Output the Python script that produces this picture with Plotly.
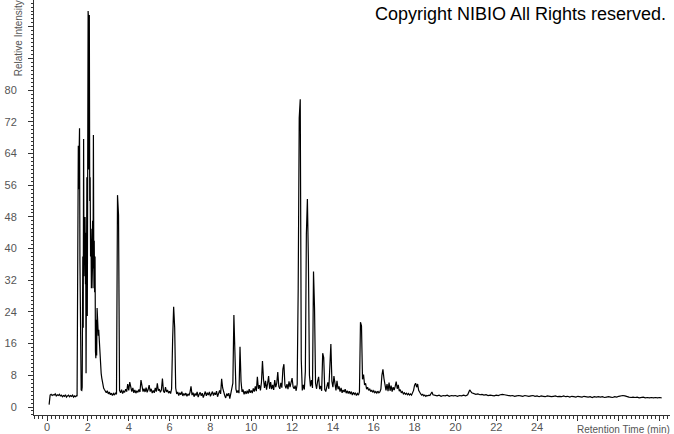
import plotly.graph_objects as go

# ---- data ----
# segment A: start of run (explicit times) + baseline sampled every 0.05 min
start_times = [0.10, 0.12]
start_values = [0.6, 2.9]
base_a_t0, base_a_dt = 0.15, 0.05
base_a_values = [3.0, 3.2, 2.9, 3.1, 3.0, 3.3, 2.8, 3.1, 2.9, 3.2, 2.8, 3.0, 2.6, 2.9,
                 2.7, 3.1, 2.5, 2.8, 3.0, 2.6, 2.9, 2.7, 3.0, 2.5, 2.8, 2.6, 2.9]

# segment B: early co-eluting cluster (explicit times)
cluster_times = [1.47, 1.49, 1.51, 1.52, 1.53, 1.54, 1.56, 1.57, 1.59, 1.61,
                 1.63, 1.65, 1.67, 1.70, 1.72, 1.75, 1.77, 1.79, 1.81, 1.83,
                 1.85, 1.86, 1.88, 1.89, 1.91, 1.93, 1.95, 1.97, 1.99, 2.01,
                 2.03, 2.05, 2.07, 2.09, 2.11, 2.13, 2.15, 2.17, 2.19, 2.21,
                 2.23, 2.25, 2.27, 2.29, 2.31, 2.33, 2.35, 2.37, 2.39, 2.41,
                 2.43, 2.45, 2.47, 2.49, 2.51, 2.53, 2.56, 2.59, 2.62, 2.65,
                 2.68, 2.71, 2.74, 2.77]
cluster_values = [2.7, 21.0, 64.0, 54.0, 66.0, 55.0, 68.5, 58.0, 70.4, 37.0,
                  22.0, 4.5, 4.3, 4.2, 5.0, 38.0, 20.0, 67.7, 33.0, 46.0,
                  38.0, 48.0, 31.0, 44.0, 8.5, 45.0, 58.0, 23.0, 56.0, 100.0,
                  98.0, 60.0, 99.0, 52.0, 58.0, 38.0, 45.0, 30.0, 42.0, 36.0,
                  47.0, 30.0, 68.7, 35.0, 42.0, 29.0, 38.0, 14.0, 12.3, 22.0,
                  13.0, 25.0, 19.0, 22.0, 18.0, 19.5, 16.0, 13.0, 10.0, 8.5,
                  7.3, 6.0, 5.2, 4.8]

# segment C: 2.80 - 19.00 min, sampled every 0.05 min
mid_t0, mid_dt = 2.80, 0.05
mid_values = [
    4.5, 4.0, 3.6, 4.1, 3.3, 3.8, 3.1, 3.5, 2.9, 3.4, 3.0, 3.6, 3.2, 53.5, 48.5, 4.2, 3.6, 4.4, 3.4, 4.0,
    3.7, 4.5, 3.9, 5.8, 4.2, 6.3, 4.6, 3.9, 4.8, 3.6, 4.3, 3.5, 4.1, 3.7, 4.4, 3.8, 6.8, 4.5, 3.9, 4.6,
    3.8, 4.9, 3.7, 4.4, 5.5, 3.9, 4.6, 3.5, 4.2, 3.6, 4.8, 3.9, 6.0, 4.1, 4.5, 3.7, 4.3, 7.2, 4.0, 3.6,
    5.0, 3.8, 4.3, 3.5, 4.0, 3.4, 4.6, 17.0, 25.3, 20.0, 4.8, 3.3, 3.8, 2.9, 3.6, 3.1, 3.9, 2.8, 3.4, 3.0,
    3.5, 2.7, 3.3, 2.9, 3.7, 5.2, 3.0, 3.6, 2.6, 3.4, 2.9, 3.8, 2.5, 3.2, 3.7, 2.8, 3.5, 2.4, 3.3, 3.9,
    2.8, 3.6, 3.0, 3.8, 2.7, 3.4, 3.9, 2.9, 3.6, 3.1, 4.0, 2.6, 3.5, 4.2, 3.3, 7.1, 4.8, 3.6, 2.9, 2.3,
    3.4, 2.8, 3.5, 2.1, 3.3, 4.0, 6.0, 23.2, 13.0, 4.5, 3.6, 4.2, 3.5, 15.2, 6.5, 3.8, 4.4, 3.2, 4.0, 3.3,
    4.1, 3.4, 4.5, 3.6, 4.2, 3.5, 4.7, 3.9, 5.2, 4.0, 7.6, 4.6, 5.5, 4.2, 6.2, 11.6, 7.0, 4.8, 6.6, 4.4,
    5.9, 7.8, 4.6, 6.3, 4.5, 5.6, 4.3, 6.8, 5.0, 6.0, 8.8, 5.2, 4.6, 6.1, 4.9, 9.6, 10.8, 5.5, 4.7, 5.8,
    4.5, 6.5, 5.0, 6.2, 7.3, 5.1, 4.6, 5.4, 4.1, 5.8, 30.0, 73.0, 77.7, 12.0, 4.2, 5.6, 4.4, 9.0, 43.6, 52.5,
    37.0, 8.0, 5.2, 6.8, 4.8, 34.2, 25.0, 6.0, 4.6, 6.5, 7.6, 4.5, 5.3, 4.1, 13.6, 12.5, 4.4, 3.9, 5.2, 6.2,
    4.6, 10.5, 15.9, 6.5, 5.0, 7.8, 5.4, 4.2, 6.6, 4.5, 5.2, 3.9, 4.8, 3.6, 4.3, 3.8, 4.5, 3.5, 4.1, 3.4,
    4.0, 3.3, 3.9, 3.0, 3.7, 3.2, 3.6, 2.9, 3.4, 3.0, 3.8, 21.4, 20.5, 7.0, 8.2, 5.6, 6.0, 4.5, 5.0, 4.2,
    4.6, 3.9, 4.3, 3.7, 4.1, 3.6, 3.9, 3.5, 4.0, 3.6, 3.8, 4.5, 8.0, 9.5, 7.2, 5.0, 4.2, 5.8, 4.0, 6.2,
    4.1, 5.4, 3.9, 5.0, 4.3, 5.2, 6.4, 4.6, 5.6, 4.0, 4.4, 3.6, 3.9, 3.3, 3.6, 3.2, 3.5, 3.1, 3.4, 3.0,
    3.3, 3.0, 3.6, 4.2, 5.5, 6.0, 5.0, 5.8, 4.2, 3.6, 3.3, 3.0, 3.2, 2.8, 3.0, 2.7, 2.9, 2.8, 3.0, 2.9,
    3.3, 3.8, 3.1, 3.0, 2.9,
]

# segment D: 19.1 - 30.1 min, sampled every 0.1 min
tail_t0, tail_dt = 19.1, 0.1
tail_values = [
    2.8, 3.0, 2.7, 2.9, 2.8, 3.0, 2.7, 2.9, 2.8, 2.9,
    2.7, 2.9, 2.8, 3.0, 2.8, 3.1, 4.3, 3.6, 3.4, 3.2,
    3.3, 3.1, 3.2, 3.0, 3.1, 2.9, 3.0, 2.9, 2.8, 3.0,
    2.9, 3.1, 3.2, 3.1, 3.0, 2.9, 2.8, 2.9, 2.7, 2.8,
    2.9, 2.8, 2.7, 2.9, 2.8, 2.7, 2.8, 2.9, 2.7, 2.8,
    2.6, 2.8, 2.7, 2.6, 2.8, 2.7, 2.6, 2.7, 2.8, 2.6,
    2.7, 2.6, 2.8, 2.6, 2.7, 2.5, 2.7, 2.6, 2.5, 2.7,
    2.6, 2.5, 2.7, 2.6, 2.5, 2.6, 2.4, 2.6, 2.5, 2.6,
    2.5, 2.6, 2.4, 2.5, 2.6, 2.5, 2.4, 2.6, 2.5, 2.7,
    2.8, 2.9, 2.8, 2.6, 2.5, 2.4, 2.5, 2.4, 2.5, 2.3,
    2.4, 2.5, 2.3, 2.4, 2.3, 2.4, 2.3, 2.4, 2.3, 2.4,
    2.3,
]

y_tick_values = [0, 8, 16, 24, 32, 40, 48, 56, 64, 72, 80, 88, 96]
y_tick_labels = ["0", "8", "16", "24", "32", "40", "48", "56", "64", "72", "80", "", ""]
x_tick_values = [0, 2, 4, 6, 8, 10, 12, 14, 16, 18, 20, 22, 24, 26, 28, 30]
x_tick_labels = ["0", "2", "4", "6", "8", "10", "12", "14", "16", "18", "20", "22", "24", "", "", ""]

# ---- assemble the sampled trace ----
times = list(start_times)
values = list(start_values)
times += [round(base_a_t0 + i * base_a_dt, 3) for i in range(len(base_a_values))]
values += base_a_values
times += cluster_times
values += cluster_values
times += [round(mid_t0 + i * mid_dt, 3) for i in range(len(mid_values))]
values += mid_values
times += [round(tail_t0 + i * tail_dt, 3) for i in range(len(tail_values))]
values += tail_values

fig = go.Figure()
fig.add_trace(go.Scatter(x=times, y=values, mode="lines",
                         line=dict(color="black", width=1.2),
                         hoverinfo="skip", showlegend=False))

FONT = "Liberation Sans, Arial, sans-serif"
tick_font = dict(family=FONT, size=11, color="#555555")

fig.update_layout(
    width=674, height=434,
    margin=dict(l=34, r=4, t=0, b=19, autoexpand=False),
    paper_bgcolor="white", plot_bgcolor="white",
    font=tick_font,
    xaxis=dict(range=[-0.64, 30.51], tickmode="array", tickvals=x_tick_values,
               ticktext=x_tick_labels, ticks="outside", ticklen=5, tickcolor="#333",
               showline=True, linecolor="#333", linewidth=1, showgrid=False,
               zeroline=False, tickfont=tick_font, automargin=False, ticklabelstandoff=-3,
               minor=dict(ticks="outside", ticklen=3, dtick=0.2, tick0=0, tickcolor="#333")),
    yaxis=dict(range=[-2.02, 102.78], tickmode="array", tickvals=y_tick_values,
               ticktext=y_tick_labels, ticks="outside", ticklen=5, tickcolor="#333",
               showline=True, linecolor="#333", linewidth=1, showgrid=False,
               zeroline=False, tickfont=tick_font, ticklabelstandoff=9, automargin=False,
               minor=dict(ticks="outside", ticklen=2, dtick=1, tick0=0, tickcolor="#333")),
    annotations=[
        dict(text="Copyright NIBIO All Rights reserved.", xref="paper", yref="paper",
             x=0.997, y=0.966, xanchor="right", yanchor="middle", showarrow=False,
             font=dict(family=FONT, size=18, color="black")),
        dict(text="Retention Time (min)", xref="paper", yref="paper",
             x=1.003, y=-0.034, xanchor="right", yanchor="middle", showarrow=False,
             font=dict(family=FONT, size=10, color="#555555")),
        dict(text="Relative Intensity", xref="paper", yref="paper", textangle=-90,
             x=-0.025, y=0.908, xanchor="center", yanchor="middle", showarrow=False,
             font=dict(family=FONT, size=10, color="#555555")),
    ],
)

fig.write_html("out.html", config={"displayModeBar": False},
               post_script="document.body.style.margin='0';document.body.style.overflow='hidden';")
